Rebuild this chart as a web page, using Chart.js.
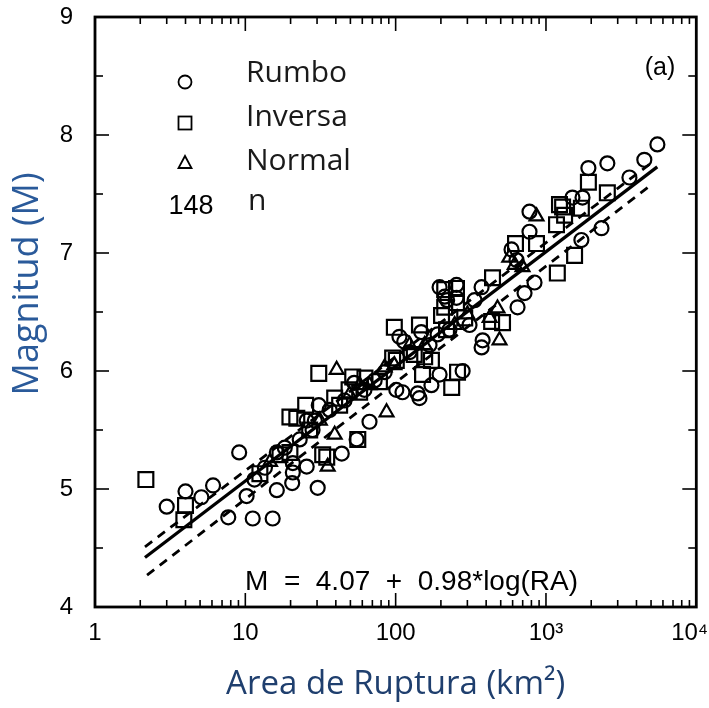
<!DOCTYPE html>
<html>
<head>
<meta charset="utf-8">
<script src="https://cdn.jsdelivr.net/npm/chart.js@4/dist/chart.umd.min.js"></script>
<style>
    html, body { margin: 0; padding: 0; background: #fff; }
    #caja { width: 709px; height: 708px; }
</style>
</head>
<body>
<div id="caja"><canvas id="graficoMagnitud"></canvas></div>
<script>
// Datos (area en km2, magnitud M)
var rumboArea = [3.0, 4.0, 5.1, 6.1, 7.7, 9.1, 10.2, 11.2, 15.2, 16.2, 16.2, 20.5, 20.7, 25.6, 30.3, 29, 25.6, 30.8, 43.8, 55,
    67, 101, 111, 140, 144, 173, 196, 279, 106, 148, 212, 254, 310, 379, 373, 335, 373, 647, 720, 839,
    637, 777, 777, 1500, 1750, 1915, 2560, 2340, 1720, 3590, 4510, 5510, 196, 254, 114, 28, 20.7, 11.5, 13.5, 18.3,
    23, 36.4, 45.7, 62, 72.5, 84.5, 124, 168, 190, 53, 220, 228, 590];
var rumboMag = [4.85, 4.98, 4.93, 5.03, 4.76, 5.31, 4.94, 4.75, 4.75, 5.31, 4.99, 5.05, 5.14, 5.19, 5.01, 5.58, 5.58, 5.71, 5.30, 5.42,
    5.57, 5.84, 5.82, 5.81, 5.77, 5.88, 5.97, 6.00, 6.29, 6.33, 6.63, 6.62, 6.39, 6.26, 6.20, 6.60, 6.71, 6.54, 6.66, 6.75,
    6.94, 7.35, 7.18, 7.47, 7.47, 7.72, 7.76, 7.21, 7.11, 7.64, 7.79, 7.92, 6.71, 6.73, 6.25, 5.50, 5.22, 5.08, 5.18, 5.35,
    5.42, 5.67, 5.75, 5.84, 5.92, 5.99, 6.16, 6.22, 6.31, 5.90, 6.60, 6.35, 7.03];

var inversaArea = [2.18, 4.0, 3.9, 19.8, 22, 25.2, 30.8, 51.8, 39.3, 56, 32.7, 34.8, 19.8, 95.5, 98, 144, 156, 173, 151, 258,
    236, 212, 254, 212, 254, 435, 441, 514, 627, 865, 1190, 1550, 1175, 1230, 1330, 1290, 1720, 1915, 2560, 49,
    101, 12.5, 17, 26.8, 42.4, 57.6, 78, 133, 218, 288, 62.5, 202];
var inversaMag = [5.08, 4.86, 4.74, 5.61, 5.60, 5.71, 5.98, 5.95, 5.77, 5.42, 5.29, 5.27, 5.31, 6.11, 6.37, 6.39, 6.12, 6.09, 5.97, 5.99,
    5.86, 6.69, 6.70, 6.54, 6.58, 6.42, 6.79, 6.41, 7.08, 7.08, 6.83, 6.98, 7.24, 7.41, 7.32, 7.39, 7.38, 7.60, 7.51, 5.84,
    6.09, 5.13, 5.29, 5.50, 5.71, 5.82, 5.91, 6.14, 6.35, 6.45, 5.94, 6.47];

var normalArea = [40.5, 39.3, 87, 35.3, 84.5, 422, 476, 491, 865, 698, 57.6, 124, 300, 620, 14.6, 31.3, 49.3, 67, 98, 156, 247, 570];
var normalMag = [6.01, 5.46, 5.65, 5.19, 6.03, 6.45, 6.53, 6.26, 7.31, 6.88, 5.88, 6.22, 6.48, 6.90, 5.23, 5.58, 5.80, 5.88, 6.05, 6.22, 6.39, 6.96];

// Recta de regresion y limites
var ajusteArea = [2.15, 5500];
var ajusteMag = [4.42, 7.73];
var superiorArea = [2.15, 5100];
var superiorMag = [4.51, 7.77];
var inferiorArea = [2.22, 5030];
var inferiorMag = [4.27, 7.58];

var ticksX = [1, 10, 100, 1000, 10000];
var etiquetasX = ["1", "10", "100", "10\u00B3", "10\u2074  "];

var leyenda = ["Rumbo", "Inversa", "Normal"];
var totalEventos = "148";

function Pares(area, mag) {
    return area.map(function (v, i) { return { x: v, y: mag[i] }; });
}

function Linea(ctx, x1, y1, x2, y2) {
    ctx.beginPath();
    ctx.moveTo(x1, y1);
    ctx.lineTo(x2, y2);
    ctx.stroke();
}

var marco = {
    id: 'marco',
    afterDraw: function (chart) {
        var ctx = chart.ctx;
        var a = chart.chartArea;
        var sx = chart.scales.x;
        var sy = chart.scales.y;
        ctx.save();
        ctx.strokeStyle = '#000';
        ctx.lineWidth = 1.6;

        // marcas del eje Y (izquierda y derecha)
        for (var v = 4; v <= 9.001; v += 0.5) {
            var py = sy.getPixelForValue(v);
            var len = (Math.abs(v - Math.round(v)) < 0.01) ? 14 : 8;
            Linea(ctx, a.left, py, a.left + len, py);
            Linea(ctx, a.right, py, a.right - len, py);
        }
        // marcas del eje X (abajo y arriba)
        for (var d = 1; d < 10000; d *= 10) {
            for (var k = 1; k <= 9; k++) {
                var px = sx.getPixelForValue(d * k);
                var l2 = (k === 1) ? 14 : 7;
                Linea(ctx, px, a.bottom, px, a.bottom - l2);
                Linea(ctx, px, a.top, px, a.top + l2);
            }
        }

        ctx.lineWidth = 2.8;
        ctx.strokeRect(a.left, a.top, a.right - a.left, a.bottom - a.top);

        // leyenda
        ctx.lineWidth = 1.8;
        var lx = 185;
        ctx.beginPath();
        ctx.arc(lx, 82, 6.5, 0, Math.PI * 2);
        ctx.stroke();
        ctx.strokeRect(lx - 6.5, 116.5, 13, 13);
        ctx.beginPath();
        ctx.moveTo(lx, 156);
        ctx.lineTo(lx + 6.5, 168);
        ctx.lineTo(lx - 6.5, 168);
        ctx.closePath();
        ctx.stroke();

        ctx.fillStyle = '#1a1a1a';
        ctx.textBaseline = 'middle';
        ctx.textAlign = 'left';
        ctx.font = '30px "Open Sans"';
        ctx.fillText(leyenda[0], 246, 73);
        ctx.fillText(leyenda[1], 246, 117);
        ctx.fillText(leyenda[2], 246, 161);
        ctx.fillText("n", 248, 201);
        ctx.font = '27px "Liberation Sans"';
        ctx.fillStyle = '#000';
        ctx.textAlign = 'center';
        ctx.fillText(totalEventos, 191, 207);

        ctx.font = '25px "Liberation Sans"';
        ctx.fillText("(a)", 660, 68);

        ctx.font = '28px "Liberation Sans"';
        ctx.textAlign = 'left';
        ctx.fillText("M  =  4.07  +  0.98*log(RA)", 245, 582);
        ctx.restore();
    }
};

var ctx = document.getElementById('graficoMagnitud').getContext('2d');

var grafico = new Chart(ctx, {
    type: 'scatter',
    data: {
        datasets: [
            {
                label: "Ajuste",
                type: 'line',
                data: Pares(ajusteArea, ajusteMag),
                borderColor: '#000',
                borderWidth: 3.2,
                pointRadius: 0,
                order: 0
            },
            {
                label: "Limite superior",
                type: 'line',
                data: Pares(superiorArea, superiorMag),
                borderColor: '#000',
                borderWidth: 2.8,
                borderDash: [9, 7],
                pointRadius: 0,
                order: 0
            },
            {
                label: "Limite inferior",
                type: 'line',
                data: Pares(inferiorArea, inferiorMag),
                borderColor: '#000',
                borderWidth: 2.8,
                borderDash: [9, 7],
                pointRadius: 0,
                order: 0
            },
            {
                label: leyenda[0],
                data: Pares(rumboArea, rumboMag),
                pointStyle: 'circle',
                pointRadius: 7,
                borderColor: '#000',
                borderWidth: 2.2,
                backgroundColor: 'rgba(0,0,0,0)',
                order: 1
            },
            {
                label: leyenda[1],
                data: Pares(inversaArea, inversaMag),
                pointStyle: 'rect',
                pointRadius: 10.5,
                borderColor: '#000',
                borderWidth: 2.2,
                backgroundColor: 'rgba(0,0,0,0)',
                order: 1
            },
            {
                label: leyenda[2],
                data: Pares(normalArea, normalMag),
                pointStyle: 'triangle',
                pointRadius: 8,
                borderColor: '#000',
                borderWidth: 2.2,
                backgroundColor: 'rgba(0,0,0,0)',
                order: 1
            }
        ]
    },
    options: {
        responsive: true,
        maintainAspectRatio: false,
        animation: false,
        layout: { padding: { top: 17, right: 12, left: 0, bottom: 0 } },
        plugins: {
            legend: { display: false },
            tooltip: { enabled: false }
        },
        scales: {
            x: {
                type: 'logarithmic',
                min: 1,
                max: 10000,
                afterBuildTicks: function (s) {
                    s.ticks = ticksX.map(function (v) { return { value: v }; });
                },
                afterFit: function (s) {
                    s.height = 101;
                    s.paddingLeft = 0;
                    s.paddingRight = 0;
                },
                grid: { display: false, drawTicks: false },
                border: { display: false },
                ticks: {
                    padding: 12,
                    maxRotation: 0,
                    autoSkip: false,
                    color: '#000',
                    font: { family: 'Liberation Sans', size: 24 },
                    callback: function (v) {
                        var i = ticksX.indexOf(v);
                        return i >= 0 ? etiquetasX[i] : '';
                    }
                },
                title: {
                    display: true,
                    text: "Area de Ruptura (km\u00B2)",
                    color: '#1f3f6e',
                    font: { family: 'Open Sans', size: 33 },
                    padding: { top: 8 }
                }
            },
            y: {
                min: 4,
                max: 9,
                afterFit: function (s) {
                    s.width = 95;
                    s.paddingTop = 0;
                    s.paddingBottom = 0;
                },
                grid: { display: false, drawTicks: false },
                border: { display: false },
                ticks: {
                    stepSize: 1,
                    padding: 22,
                    color: '#000',
                    font: { family: 'Liberation Sans', size: 24 }
                },
                title: {
                    display: true,
                    text: "      Magnitud (M)",
                    color: '#2a5a9a',
                    font: { family: 'Open Sans', size: 36 },
                    padding: { bottom: 0, top: 6 }
                }
            }
        }
    },
    plugins: [marco]
});
</script>
</body>
</html>
